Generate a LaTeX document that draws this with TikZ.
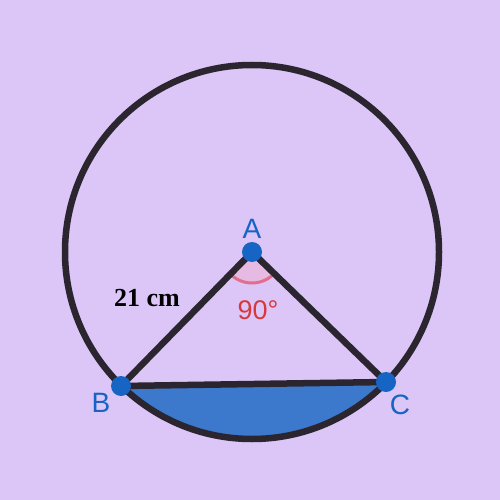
\documentclass[tikz,border=0pt]{standalone}
\usepackage{fontspec}
\setmainfont{Liberation Sans}
\newfontfamily\serifbold{Liberation Serif}
\usetikzlibrary{calc}

\begin{document}
\begin{tikzpicture}[x=1pt, y=-1pt,
			rim/.style={draw=rimgray, line width=6.5pt},
			side/.style={draw=rimgray, line width=6.5pt, line cap=round},
			vertex/.style={circle, fill=dotblue, inner sep=0pt, minimum size=20pt},
			vlabel/.style={text=dotblue, font=\fontsize{28}{28}\selectfont}
			]
			
			% Define colors
			\definecolor{bgviolet}{RGB}{220,198,248}
			\definecolor{rimgray}{RGB}{43,37,48}
			\definecolor{dotblue}{RGB}{22,100,196}
			\definecolor{segblue}{RGB}{60,121,204}
			\definecolor{segedge}{RGB}{40,96,180}
			\definecolor{anglepink}{RGB}{230,186,226}
			\definecolor{anglered}{RGB}{224,110,140}
			\definecolor{textred}{RGB}{214,56,60}
			
			% 1. Background
			\fill[bgviolet] (0,0) rectangle (500,500);
			\useasboundingbox (0,0) rectangle (500,500);
			
			% Points
			\coordinate (A) at (252,252);
			\coordinate (B) at (121,386);
			\coordinate (C) at (386,382);
			
			% 2. Minor segment under the chord BC
			\fill[segblue, draw=segedge, line width=3pt]
				(B) -- (C) arc[start angle=44.1, end angle=134.4, radius=187] -- cycle;
			
			% 3. Right angle mark at A
			\fill[anglepink] (A) -- ($(A)!31pt!(C)$) arc[start angle=44.1, end angle=134.4, radius=31] -- cycle;
			\draw[anglered, line width=3pt] ($(A)!31pt!(C)$) arc[start angle=44.1, end angle=134.4, radius=31];
			
			% 4. Circle, radii and chord
			\draw[rim] (A) circle (187);
			\draw[side] (B) -- (A) -- (C);
			\draw[side] (B) -- (C);
			
			% 5. Vertices and labels
			\node[vertex] (a) at (A) {};
			\node[vertex] (b) at (B) {};
			\node[vertex] (c) at (C) {};
			\node[vlabel] (la) at (252,229) {A};
			\node[vlabel] (lb) at (101,403) {B};
			\node[vlabel] (lc) at (400,405) {C};
			
			% Measures
			\node[text=textred, font=\fontsize{27}{27}\selectfont] (ang) at (258,310) {90°};
			\node[font=\serifbold\bfseries\fontsize{26}{26}\selectfont] (len) at (147,298) {21 cm};
			
		\end{tikzpicture}
\end{document}
